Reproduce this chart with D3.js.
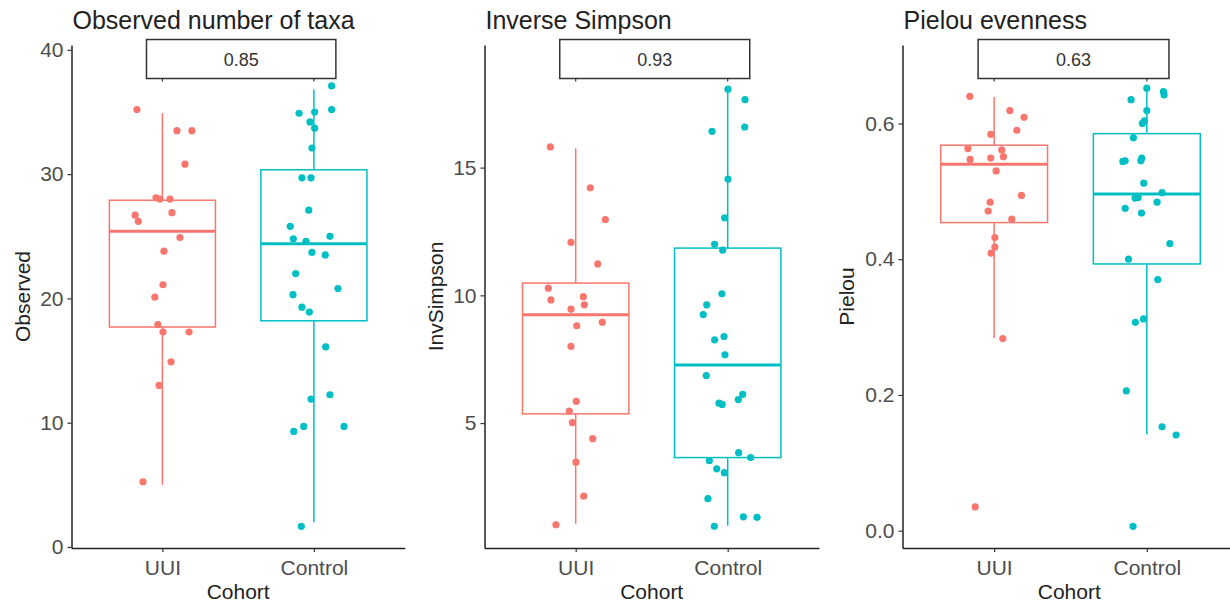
<!DOCTYPE html>
<html><head><meta charset="utf-8">
<script src="https://cdn.jsdelivr.net/npm/d3@7"></script>
<style>body{margin:0;background:#fff} svg{display:block}</style>
</head><body>
<svg id="chart" width="1230" height="604"></svg>
<script>
// ---------- DATA ----------
const categories = ["UUI", "Control"];
const panelTitles = ["Observed number of taxa", "Inverse Simpson", "Pielou evenness"];
const yAxisLabels = ["Observed", "InvSimpson", "Pielou"];
const xAxisLabel = "Cohort";
const pValueLabels = ["0.85", "0.93", "0.63"];

const observedTicks = [0, 10, 20, 30, 40];
const invSimpsonTicks = [5, 10, 15];
const pielouTicks = [0.0, 0.2, 0.4, 0.6];

const observedDomain = [-0.08, 40.39];
const invSimpsonDomain = [0.11, 19.8];
const pielouDomain = [-0.0255, 0.7156];

// box stats: [lower whisker, Q1, median, Q3, upper whisker]
const observedBoxUUI = [5.0, 17.7, 25.4, 27.9, 34.9];
const observedBoxControl = [2.0, 18.2, 24.4, 30.35, 36.8];
const invSimpsonBoxUUI = [1.06, 5.36, 9.24, 10.48, 15.75];
const invSimpsonBoxControl = [0.98, 3.65, 7.27, 11.85, 18.07];
const pielouBoxUUI = [0.284, 0.454, 0.540, 0.568, 0.639];
const pielouBoxControl = [0.142, 0.393, 0.496, 0.585, 0.650];

// sample values and horizontal jitter (in category units)
const observedUUI = [35.2, 33.5, 33.5, 30.8, 28.1, 28.0, 28.0, 26.9, 26.7, 26.2, 24.9, 23.8, 21.1, 20.1, 17.9, 17.3, 17.3, 14.9, 13.0, 5.25];
const observedUUIJitter = [-0.168, 0.096, 0.195, 0.149, -0.042, -0.016, 0.05, 0.063, -0.18, -0.159, 0.116, 0.01, 0.004, -0.05, -0.03, 0.004, 0.176, 0.057, -0.022, -0.128];
const observedControl = [37.1, 34.9, 35.0, 35.2, 34.2, 33.7, 32.1, 29.7, 29.7, 27.1, 25.8, 24.8, 24.6, 25.0, 23.7, 23.5, 22.0, 20.8, 20.3, 19.3, 18.9, 16.1, 12.25, 11.9, 9.7, 9.3, 9.7, 1.66];
const observedControlJitter = [0.117, -0.098, 0.005, 0.117, -0.026, 0.005, -0.013, -0.079, -0.019, -0.034, -0.156, -0.136, -0.052, 0.106, -0.013, 0.075, -0.12, 0.159, -0.138, -0.079, -0.03, 0.078, 0.106, -0.019, -0.067, -0.133, 0.199, -0.083];

const invSimpsonUUI = [15.81, 14.21, 12.97, 12.07, 11.23, 10.28, 9.95, 9.82, 9.63, 9.46, 8.95, 8.81, 8.0, 5.85, 5.47, 5.02, 4.39, 3.47, 2.14, 1.02];
const invSimpsonUUIJitter = [-0.167, 0.096, 0.195, -0.031, 0.145, -0.18, 0.05, -0.163, 0.057, -0.031, 0.175, 0.007, -0.031, 0.004, -0.042, -0.022, 0.112, 0.002, 0.053, -0.13];
const invSimpsonControl = [18.07, 17.66, 16.59, 16.42, 14.55, 13.03, 12.0, 11.77, 10.06, 9.63, 9.25, 8.39, 8.26, 7.67, 6.86, 6.12, 5.92, 5.78, 5.73, 3.84, 3.65, 3.53, 3.21, 3.06, 2.04, 1.33, 1.31, 0.96];
const invSimpsonControlJitter = [0.002, 0.114, 0.112, -0.103, 0.002, -0.02, -0.086, -0.033, -0.038, -0.138, -0.161, -0.024, -0.086, -0.018, -0.141, 0.099, 0.07, -0.057, -0.036, 0.072, 0.151, -0.121, -0.072, -0.022, -0.13, 0.103, 0.193, -0.088];

const pielouUUI = [0.640, 0.619, 0.609, 0.590, 0.584, 0.563, 0.561, 0.551, 0.547, 0.549, 0.530, 0.494, 0.484, 0.471, 0.459, 0.432, 0.418, 0.409, 0.283, 0.035];
const pielouUUIJitter = [-0.159, 0.103, 0.196, 0.149, -0.022, -0.172, 0.05, 0.061, -0.157, -0.022, 0.013, 0.179, -0.026, -0.039, 0.116, 0.005, 0.005, -0.02, 0.057, -0.124];
const pielouControl = [0.652, 0.647, 0.642, 0.635, 0.619, 0.604, 0.600, 0.579, 0.549, 0.545, 0.545, 0.544, 0.512, 0.498, 0.490, 0.491, 0.484, 0.475, 0.468, 0.423, 0.400, 0.370, 0.307, 0.312, 0.206, 0.153, 0.141, 0.0065];
const pielouControlJitter = [0, 0.109, 0.113, -0.103, 0, -0.016, -0.029, -0.088, -0.033, -0.039, -0.142, -0.157, -0.02, 0.1, -0.077, -0.057, 0.067, -0.142, -0.035, 0.151, -0.12, 0.072, -0.075, -0.022, -0.134, 0.1, 0.192, -0.09];

// ---------- LAYOUT / STYLE ----------
const colors = {UUI: "#F8766D", Control: "#00BFC4"};
const panelLeft = [71.5, 484.5, 902.5];
const panelStep = [151.5, 152, 152.7];
const plotTop = 45, plotBottom = 548;
const boxWidth = 0.7;
const labelCenter = 1.52, labelWidth = 1.25;
const font = "'Liberation Sans', Arial, sans-serif";

const panels = [
  {ticks: observedTicks, domain: observedDomain, fmt: d3.format("d"),
   boxes: [observedBoxUUI, observedBoxControl],
   values: [observedUUI, observedControl], jitter: [observedUUIJitter, observedControlJitter]},
  {ticks: invSimpsonTicks, domain: invSimpsonDomain, fmt: d3.format("d"),
   boxes: [invSimpsonBoxUUI, invSimpsonBoxControl],
   values: [invSimpsonUUI, invSimpsonControl], jitter: [invSimpsonUUIJitter, invSimpsonControlJitter]},
  {ticks: pielouTicks, domain: pielouDomain, fmt: d3.format(".1f"),
   boxes: [pielouBoxUUI, pielouBoxControl],
   values: [pielouUUI, pielouControl], jitter: [pielouUUIJitter, pielouControlJitter]}
];

const svg = d3.select("#chart").style("font-family", font);

panels.forEach((p, i) => {
  const left = panelLeft[i];
  const x = d3.scaleLinear().domain([0.4, 2.6]).range([left, left + 2.2 * panelStep[i]]);
  const y = d3.scaleLinear().domain(p.domain).range([plotBottom, plotTop]);
  const g = svg.append("g");

  // boxes
  categories.forEach((cat, ci) => {
    const b = p.boxes[ci];
    const cx = x(ci + 1);
    const col = colors[cat];
    const bg = g.append("g");
    bg.append("line").attr("x1", cx).attr("x2", cx).attr("y1", y(b[3])).attr("y2", y(b[4]))
      .attr("stroke", col).attr("stroke-width", 1.5);
    bg.append("line").attr("x1", cx).attr("x2", cx).attr("y1", y(b[1])).attr("y2", y(b[0]))
      .attr("stroke", col).attr("stroke-width", 1.5);
    bg.append("rect").attr("x", x(ci + 1 - boxWidth / 2)).attr("width", x(ci + 1 + boxWidth / 2) - x(ci + 1 - boxWidth / 2))
      .attr("y", y(b[3])).attr("height", y(b[1]) - y(b[3]))
      .attr("fill", "#fff").attr("stroke", col).attr("stroke-width", 1.5);
    bg.append("line").attr("x1", x(ci + 1 - boxWidth / 2)).attr("x2", x(ci + 1 + boxWidth / 2))
      .attr("y1", y(b[2])).attr("y2", y(b[2])).attr("stroke", col).attr("stroke-width", 3);
  });

  // points
  categories.forEach((cat, ci) => {
    g.append("g").selectAll("circle").data(p.values[ci]).join("circle")
      .attr("cx", (d, k) => x(ci + 1 + p.jitter[ci][k]))
      .attr("cy", d => y(d))
      .attr("r", 3.6)
      .attr("fill", colors[cat]);
  });

  // axes
  const yAxis = d3.axisLeft(y).tickValues(p.ticks).tickFormat(p.fmt).tickSize(4).tickPadding(4).tickSizeOuter(0);
  const ya = g.append("g").attr("transform", `translate(${left},0)`).call(yAxis);
  const xAxis = d3.axisBottom(x).tickValues([1, 2]).tickFormat(d => categories[d - 1]).tickSize(4).tickPadding(8).tickSizeOuter(0);
  const xa = g.append("g").attr("transform", `translate(0,${plotBottom})`).call(xAxis);
  [ya, xa].forEach(a => {
    a.select(".domain").attr("stroke", "#222").attr("stroke-width", 1.5);
    a.selectAll(".tick line").attr("stroke", "#333").attr("stroke-width", 1.2);
    a.selectAll(".tick text").attr("fill", "#4d4d4d").style("font-size", "21px").style("font-family", font);
  });

  // y label
  let maxW = 0;
  ya.selectAll(".tick text").each(function () { maxW = Math.max(maxW, this.getBBox().width); });
  g.append("text").attr("transform", `translate(${left - 26 - maxW},${(plotTop + plotBottom) / 2}) rotate(-90)`)
    .attr("text-anchor", "middle").attr("dominant-baseline", "central")
    .style("font-size", "21px").attr("fill", "#222").text(yAxisLabels[i]);

  // x label
  g.append("text").attr("x", (x.range()[0] + Math.min(x.range()[1], 1228)) / 2 + (i === 2 ? 4 : 0)).attr("y", 599)
    .attr("text-anchor", "middle").style("font-size", "21px").attr("fill", "#222").text(xAxisLabel);

  // title
  g.append("text").attr("x", left + 1).attr("y", 29).style("font-size", "25px").attr("fill", "#222").text(panelTitles[i]);

  // comparison bracket + label
  g.append("path").attr("d", `M${x(1)},81.5 V78.5 H${x(2)} V81.5`).attr("fill", "none").attr("stroke", "#333").attr("stroke-width", 1.2);
  g.append("rect").attr("x", x(labelCenter - labelWidth / 2)).attr("width", x(labelCenter + labelWidth / 2) - x(labelCenter - labelWidth / 2))
    .attr("y", 39.5).attr("height", 39).attr("fill", "#fff").attr("stroke", "#333").attr("stroke-width", 1.5);
  g.append("text").attr("x", x(labelCenter)).attr("y", 59.5).attr("text-anchor", "middle").attr("dominant-baseline", "central")
    .style("font-size", "18px").attr("fill", "#333").text(pValueLabels[i]);
});
</script>
</body></html>
